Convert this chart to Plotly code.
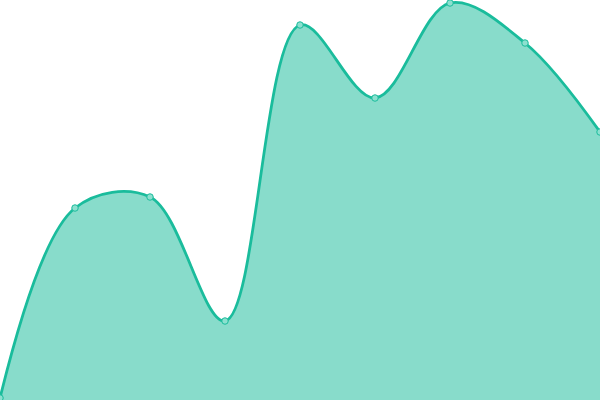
import plotly.graph_objects as go

# category positions and values (plot spans 0..400)
steps = [0, 1, 2, 3, 4, 5, 6, 7, 8]
values = [2, 192, 203, 79, 375, 302, 397, 357, 268]

line_color = "#1abc9c"
fill_color = "rgba(26,188,156,0.52)"

fig = go.Figure(go.Scatter(
    x=steps, y=values, mode="lines+markers",
    line=dict(color=line_color, width=2.8, shape="spline", smoothing=1),
    fill="tozeroy", fillcolor=fill_color,
    marker=dict(size=6.5, color="#8ce0cf", line=dict(color=line_color, width=1)),
    hoverinfo="skip",
))
fig.update_layout(
    width=600, height=400, margin=dict(l=0, r=0, t=0, b=0),
    paper_bgcolor="white", plot_bgcolor="white", showlegend=False,
    xaxis=dict(visible=False, range=[0, 8]),
    yaxis=dict(visible=False, range=[0, 400]),
)
# drop the browser's default body margin so the chart fills the window
fig.write_html(
    "out.html",
    config={"displayModeBar": False},
    post_script="document.body.style.margin='0';",
)
